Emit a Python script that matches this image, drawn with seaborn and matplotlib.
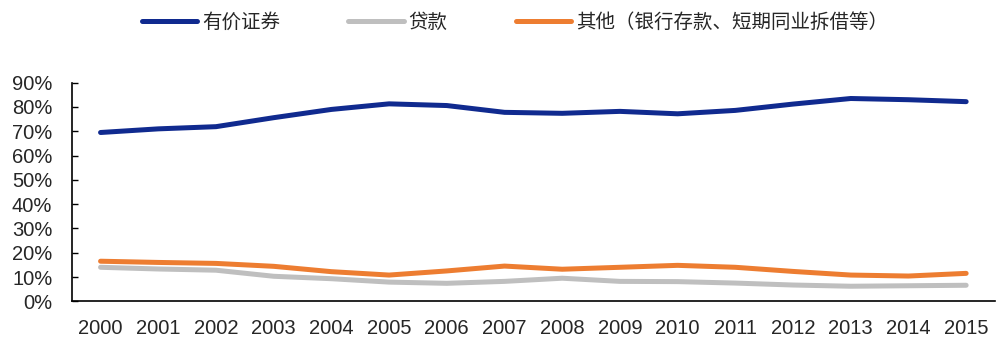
import matplotlib
matplotlib.use("Agg")
import matplotlib.pyplot as plt
import seaborn as sns
import pandas as pd
import numpy as np
from matplotlib.ticker import FixedLocator, PercentFormatter
from matplotlib.lines import Line2D

years = [str(y) for y in range(2000, 2016)]
securities = [69.5, 71.0, 71.9, 75.6, 79.0, 81.3, 80.6, 77.8, 77.4, 78.2, 77.2, 78.6, 81.2, 83.5, 83.0, 82.2]
loans = [14.0, 13.3, 12.8, 10.3, 9.3, 7.9, 7.4, 8.2, 9.5, 8.2, 8.1, 7.5, 6.7, 6.2, 6.4, 6.6]
others = [16.5, 16.0, 15.6, 14.4, 12.2, 10.8, 12.5, 14.5, 13.2, 14.0, 14.8, 14.0, 12.3, 10.8, 10.4, 11.5]
series_names = ["有价证券", "贷款", "其他（银行存款、短期同业拆借等）"]
colors = ["#102A8F", "#BFBFBF", "#ED7D31"]

df = pd.DataFrame({"year": years * 3,
                   "value": securities + loans + others,
                   "series": [series_names[0]] * 16 + [series_names[1]] * 16 + [series_names[2]] * 16})

sns.set_style("white")
plt.rcParams['font.family'] = ['Liberation Sans', 'Noto Sans CJK SC', 'DejaVu Sans']

fig = plt.figure(figsize=(10, 3.49), dpi=100)
ax = fig.add_axes([0.0717, 0.1367, 0.9233, 0.6263])

sns.lineplot(data=df, x="year", y="value", hue="series", hue_order=series_names,
             palette=colors, linewidth=3.6, ax=ax, legend=False, sort=False)
for ln in ax.lines:
    ln.set_solid_capstyle("round")

ax.set_xlim(-0.5, 15.5)
ax.set_ylim(0, 90)
ax.set_xlabel("")
ax.set_ylabel("")

ax.set_yticks(np.arange(0, 91, 10))
ax.yaxis.set_major_formatter(PercentFormatter(decimals=0))
ax.set_xticks(range(16))
ax.set_xticklabels(years)
ax.xaxis.set_minor_locator(FixedLocator(np.arange(-0.5, 16, 1)))
ax.tick_params(axis='x', which='major', length=0, pad=13, labelsize=14.5)
ax.tick_params(axis='x', which='minor', direction='in', length=4.3, width=1, color='black')
ax.tick_params(axis='y', which='major', direction='in', length=4.3, width=1, color='black',
               pad=14, labelsize=14.5, left=True)

for s in ['top', 'right']:
    ax.spines[s].set_visible(False)
for s in ['left', 'bottom']:
    ax.spines[s].set_color('black')
    ax.spines[s].set_linewidth(1.2)

handles = [Line2D([0], [0], color=c, lw=3.6, solid_capstyle='round') for c in colors]
fig.legend(handles, series_names, loc='center', bbox_to_anchor=(0.515, 0.937), ncol=3,
           frameon=False, handlelength=2.85, handletextpad=0.25, columnspacing=3.5,
           prop={'family': ['Noto Sans CJK SC', 'DejaVu Sans'], 'size': 14})

fig.savefig("out.png", dpi=100)
